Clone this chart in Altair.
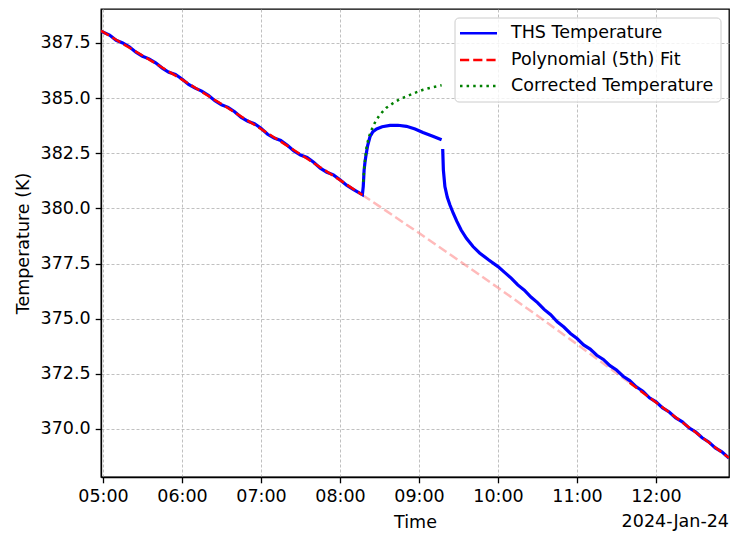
import altair as alt
import pandas as pd

DAY = "2024-01-24"

# THS temperature, before the heating event (K)
pre_times = ["04:58:30", "05:05", "05:10", "05:15", "05:20", "05:25", "05:30", "05:35", "05:40",
             "05:45", "05:50", "05:55", "06:00", "06:05", "06:10", "06:15", "06:20", "06:25",
             "06:30", "06:35", "06:40", "06:45", "06:50", "06:55", "07:00", "07:05", "07:10",
             "07:15", "07:20", "07:25", "07:30", "07:35", "07:40", "07:45", "07:50", "07:55",
             "08:00", "08:05", "08:10", "08:17"]
pre_temps = [388.03, 387.86, 387.62, 387.50, 387.33, 387.08, 386.90, 386.78, 386.60,
             386.36, 386.17, 386.07, 385.87, 385.62, 385.45, 385.32, 385.13, 384.88,
             384.70, 384.58, 384.38, 384.12, 383.95, 383.84, 383.63, 383.36, 383.19,
             383.08, 382.86, 382.60, 382.42, 382.31, 382.09, 381.82, 381.64, 381.52,
             381.30, 381.05, 380.86, 380.62]

# THS temperature during the heating event
event_times = ["08:17:40", "08:18:20", "08:19:00", "08:19:40", "08:21:00", "08:22:50", "08:25:00",
               "08:27:50", "08:32:00", "08:38:00", "08:44:00", "08:50:30", "08:57:00", "09:03:00",
               "09:10:00", "09:17:10"]
event_temps = [381.00, 381.75, 382.10, 382.38, 382.85, 383.26, 383.48,
               383.60, 383.70, 383.76, 383.77, 383.72, 383.60, 383.44,
               383.28, 383.11]

# THS temperature after the event, relaxing back to the trend
post_times = ["09:18:00", "09:18:30", "09:19:40", "09:21:30", "09:23:30", "09:26:00", "09:28:40",
              "09:32:00", "09:36:00", "09:41:00", "09:46:00", "09:53:00", "10:00", "10:05",
              "10:10", "10:15", "10:20", "10:25", "10:30", "10:35", "10:40", "10:45", "10:50",
              "10:55", "11:00", "11:05", "11:10", "11:15", "11:20", "11:25", "11:30", "11:35",
              "11:40", "11:45", "11:50", "11:55", "12:00", "12:05", "12:10", "12:15", "12:20",
              "12:25", "12:30", "12:35", "12:40", "12:45", "12:50", "12:55:20"]
post_temps = [382.69, 381.75, 380.99, 380.50, 380.15, 379.78, 379.42,
              379.02, 378.64, 378.27, 377.98, 377.66, 377.36, 377.10,
              376.84, 376.53, 376.29, 375.98, 375.73, 375.42, 375.18, 374.86, 374.62,
              374.33, 374.10, 373.81, 373.62, 373.34, 373.15, 372.87, 372.67, 372.39,
              372.19, 371.91, 371.71, 371.41, 371.23, 370.95, 370.77, 370.50, 370.32,
              370.05, 369.87, 369.60, 369.41, 369.14, 368.96, 368.68]

# Polynomial trend through the undisturbed data
fit_times = ["04:58:30", "05:00", "05:30", "06:00", "06:30", "07:00", "07:30", "08:00", "08:17",
             "08:30", "09:00", "09:30", "10:00", "10:30", "11:00", "11:30", "11:40", "12:00",
             "12:30", "12:55:20"]
fit_temps = [388.05, 388.00, 386.93, 385.84, 384.73, 383.60, 382.45, 381.28, 380.61,
             380.09, 378.88, 377.65, 376.40, 375.13, 373.84, 372.53, 372.09, 371.20,
             369.85, 368.69]

# Temperature corrected for the heating event
corr_times = ["08:17:40", "08:18:30", "08:19:30", "08:20:15", "08:22:00", "08:24:00", "08:27:00",
              "08:30:20", "08:35:00", "08:40:30", "08:45:00", "08:50:40", "08:57:00", "09:03:10",
              "09:10:00", "09:17:10"]
corr_temps = [381.20, 381.90, 382.45, 382.81, 383.25, 383.57, 383.95,
              384.25, 384.55, 384.78, 384.94, 385.08, 385.24, 385.38,
              385.49, 385.58]

legend_labels = ["THS Temperature", "Polynomial (5th) Fit", "Corrected Temperature"]
y_ticks = [370.0, 372.5, 375.0, 377.5, 380.0, 382.5, 385.0, 387.5]
x_tick_hours = [5, 6, 7, 8, 9, 10, 11, 12]
date_label = "2024-Jan-24"

FONT = "DejaVu Sans"
FS = 17.5
W, H = 628, 468


def stamp(times):
    return [f"{DAY}T{t if len(t) > 5 else t + ':00'}" for t in times]


blue_df = pd.concat([
    pd.DataFrame({"time": stamp(pre_times + event_times), "temp": pre_temps + event_temps, "seg": "a"}),
    pd.DataFrame({"time": stamp(post_times), "temp": post_temps, "seg": "b"}),
])

fit_df = pd.DataFrame({"time": stamp(fit_times), "temp": fit_temps})
fit_df["clock"] = fit_times
early = fit_df[fit_df["clock"] <= "08:17"].assign(seg="a")
late = fit_df[fit_df["clock"] >= "11:40"].assign(seg="b")
solid_fit = pd.concat([early, late])
faded_fit = fit_df[(fit_df["clock"] >= "08:17") & (fit_df["clock"] <= "11:40")]

corr_df = pd.DataFrame({"time": stamp(corr_times), "temp": corr_temps})

x_scale = alt.Scale(domain=[alt.DateTime(year=2024, month=1, date=24, hours=4, minutes=58, seconds=30),
                            alt.DateTime(year=2024, month=1, date=24, hours=12, minutes=55, seconds=25)])
y_scale = alt.Scale(domain=[367.82, 389.04], zero=False, nice=False)

x_enc = alt.X("time:T", scale=x_scale, title="Time",
              axis=alt.Axis(format="%H:%M", labelFlush=False,
                            values=[alt.DateTime(year=2024, month=1, date=24, hours=h) for h in x_tick_hours]))
y_enc = alt.Y("temp:Q", scale=y_scale, title="Temperature (K)",
              axis=alt.Axis(values=y_ticks, format=".1f", titlePadding=8))

faded = alt.Chart(faded_fit).mark_line(color="#ff0000", opacity=0.27, strokeWidth=2.5,
                                       strokeDash=[9.2, 4], clip=True).encode(x=x_enc, y=y_enc)
blue = alt.Chart(blue_df).mark_line(color="#0000ff", strokeWidth=3.2, clip=True).encode(
    x=x_enc, y=y_enc, detail="seg:N")
red = alt.Chart(solid_fit).mark_line(color="#ff0000", strokeWidth=2.5, strokeDash=[9.2, 4],
                                     clip=True).encode(x=x_enc, y=y_enc, detail="seg:N")
green = alt.Chart(corr_df).mark_line(color="#008000", strokeWidth=2.5, strokeDash=[2.5, 4.1],
                                     clip=True).encode(x=x_enc, y=y_enc)

date_text = alt.Chart(pd.DataFrame({"label": [date_label]})).mark_text(
    align="right", baseline="middle", font=FONT, fontSize=FS, color="black").encode(
    text="label:N", x=alt.value(W), y=alt.value(H + 45))

# legend box in the upper right corner
box = alt.Chart(pd.DataFrame({"k": [0]})).mark_rect(
    fill="white", fillOpacity=0.8, stroke="#cccccc", strokeWidth=1, cornerRadius=4).encode(
    x=alt.value(354), x2=alt.value(620), y=alt.value(9), y2=alt.value(93))

styles = [
    dict(color="#0000ff", strokeWidth=2.5),
    dict(color="#ff0000", strokeWidth=2.5, strokeDash=[9.2, 4]),
    dict(color="#008000", strokeWidth=2.5, strokeDash=[2.5, 4.1]),
]
row_y = [24.3, 51, 77]
legend_layers = [box]
for label, style, yy in zip(legend_labels, styles, row_y):
    legend_layers.append(
        alt.Chart(pd.DataFrame({"k": [0]})).mark_rule(**style).encode(
            x=alt.value(359), x2=alt.value(396), y=alt.value(yy)))
    legend_layers.append(
        alt.Chart(pd.DataFrame({"label": [label]})).mark_text(
            align="left", baseline="middle", font=FONT, fontSize=FS, color="black").encode(
            text="label:N", x=alt.value(410), y=alt.value(yy)))

chart = alt.layer(faded, blue, red, green, date_text, *legend_layers).properties(
    width=W, height=H,
    autosize=alt.AutoSizeParams(type="none"),
    padding={"left": 101, "top": 9, "right": 2, "bottom": 56},
).configure_view(
    stroke="black", strokeWidth=1.3
).configure_axis(
    labelFont=FONT, labelFontSize=FS, labelColor="black",
    titleFont=FONT, titleFontSize=FS, titleFontWeight="normal", titleColor="black",
    tickColor="black", tickSize=5.8, tickWidth=1.3,
    domainColor="black", domainWidth=1.3, labelPadding=5,
    gridColor="#b0b0b0", gridDash=[3, 2], gridWidth=0.8,
).configure_axisX(titlePadding=8)

chart.save("out.html", embed_options={"renderer": "svg", "actions": False})
